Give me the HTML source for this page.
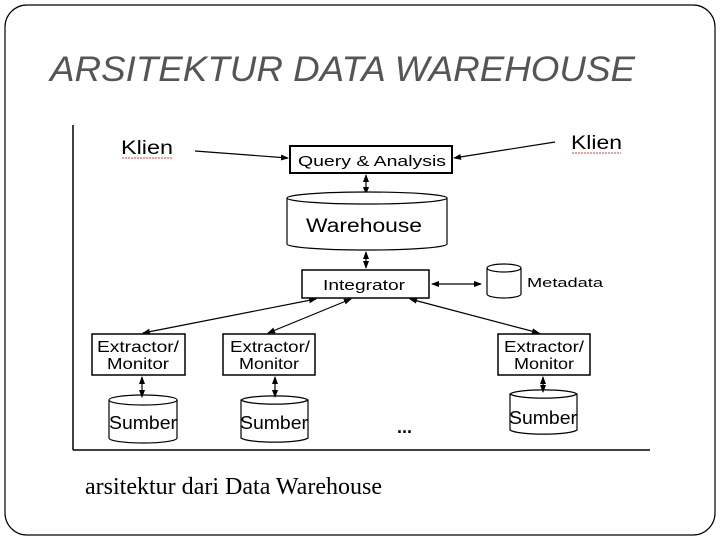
<!DOCTYPE html>
<html><head><meta charset="utf-8"><style>
html,body{margin:0;padding:0;background:#fff;}
svg{display:block;}
</style></head><body>
<svg width="720" height="540" viewBox="0 0 720 540" xmlns="http://www.w3.org/2000/svg" font-family="Liberation Sans, sans-serif">
<defs>
<marker id="a" markerWidth="8" markerHeight="8" refX="7" refY="4" orient="auto-start-reverse" markerUnits="userSpaceOnUse"><path d="M0,1 L8,4 L0,7 z" fill="#000"/></marker>
</defs>
<rect x="5" y="5" width="710" height="530" rx="22" fill="#fff" stroke="#000" stroke-width="1.2"/>
<text x="50" y="81" font-size="35" font-style="italic" fill="#555" textLength="585" lengthAdjust="spacingAndGlyphs">ARSITEKTUR DATA WAREHOUSE</text>

<g stroke="#000" fill="none">
<line x1="73" y1="125" x2="73" y2="450" stroke-width="1.5"/>
<line x1="73" y1="450" x2="650" y2="450" stroke-width="1.5"/>
</g>
<g font-size="19" fill="#000">
<text x="121" y="154" textLength="52" lengthAdjust="spacingAndGlyphs">Klien</text>
<text x="571" y="149" textLength="51" lengthAdjust="spacingAndGlyphs">Klien</text>
</g>
<g stroke="#c00" stroke-width="0.8" fill="none" stroke-dasharray="2,1">
<line x1="122" y1="158" x2="172" y2="158"/>
<line x1="572" y1="153" x2="621" y2="153"/>
</g>
<g stroke="#000" stroke-width="1.2" fill="none">
<line x1="195" y1="151" x2="288" y2="158" marker-end="url(#a)"/>
<line x1="555" y1="142" x2="454" y2="158" marker-end="url(#a)"/>
<rect x="290" y="146" width="162" height="27" stroke-width="2"/>
<line x1="366" y1="175" x2="366" y2="194" marker-start="url(#a)" marker-end="url(#a)"/>
<path d="M287,198 A80,6 0 0 1 447,198 L447,244 A80,6 0 0 1 287,244 Z" fill="#fff"/>
<path d="M287,198 A80,6 0 0 0 447,198"/>
<line x1="366" y1="252" x2="366" y2="268" marker-start="url(#a)" marker-end="url(#a)"/>
<rect x="302" y="270" width="127" height="28" stroke-width="1.5"/>
<line x1="432" y1="284" x2="481" y2="284" marker-start="url(#a)" marker-end="url(#a)"/>
<path d="M487,268 A17,4 0 0 1 521,268 L521,294 A17,4 0 0 1 487,294 Z"/>
<path d="M487,268 A17,4 0 0 0 521,268"/>
<line x1="316" y1="299" x2="143" y2="333" marker-start="url(#a)" marker-end="url(#a)"/>
<line x1="351" y1="299" x2="268" y2="333" marker-start="url(#a)" marker-end="url(#a)"/>
<line x1="410" y1="299" x2="539" y2="333" marker-start="url(#a)" marker-end="url(#a)"/>
<rect x="92" y="334" width="93" height="41" stroke-width="1.5"/>
<rect x="223" y="334" width="92" height="41" stroke-width="1.5"/>
<rect x="498" y="334" width="92" height="41" stroke-width="1.5"/>
<line x1="142" y1="377" x2="142" y2="397" marker-start="url(#a)" marker-end="url(#a)"/>
<line x1="275" y1="377" x2="275" y2="397" marker-start="url(#a)" marker-end="url(#a)"/>
<line x1="543" y1="377" x2="543" y2="392" marker-start="url(#a)" marker-end="url(#a)"/>
<path d="M109,400 A34,5 0 0 1 177,400 L177,438 A34,5 0 0 1 109,438 Z"/>
<path d="M109,400 A34,5 0 0 0 177,400"/>
<path d="M241,400 A34,5 0 0 1 308,400 L308,438 A34,5 0 0 1 241,438 Z"/>
<path d="M241,400 A34,5 0 0 0 308,400"/>
<path d="M510,394 A34,5 0 0 1 577,394 L577,430 A34,5 0 0 1 510,430 Z"/>
<path d="M510,394 A34,5 0 0 0 577,394"/>
</g>
<g font-size="15" fill="#000" text-anchor="middle" lengthAdjust="spacingAndGlyphs">
<text x="372" y="166" textLength="148" lengthAdjust="spacingAndGlyphs">Query &amp; Analysis</text>
<text x="364" y="232" font-size="19" textLength="116" lengthAdjust="spacingAndGlyphs">Warehouse</text>
<text x="364" y="290" textLength="82" lengthAdjust="spacingAndGlyphs">Integrator</text>
<text x="138" y="352" font-size="16" textLength="82" lengthAdjust="spacingAndGlyphs">Extractor/</text><text x="138" y="369" font-size="16" textLength="62" lengthAdjust="spacingAndGlyphs">Monitor</text>
<text x="270" y="352" font-size="16" textLength="80" lengthAdjust="spacingAndGlyphs">Extractor/</text><text x="269" y="369" font-size="16" textLength="60" lengthAdjust="spacingAndGlyphs">Monitor</text>
<text x="544" y="352" font-size="16" textLength="80" lengthAdjust="spacingAndGlyphs">Extractor/</text><text x="544" y="369" font-size="16" textLength="60" lengthAdjust="spacingAndGlyphs">Monitor</text>
<text x="143" y="429" font-size="18" textLength="68" lengthAdjust="spacingAndGlyphs">Sumber</text>
<text x="274" y="429" font-size="18" textLength="68" lengthAdjust="spacingAndGlyphs">Sumber</text>
<text x="543" y="424" font-size="18" textLength="68" lengthAdjust="spacingAndGlyphs">Sumber</text>
</g>
<text x="527" y="287" font-size="13" textLength="76" lengthAdjust="spacingAndGlyphs">Metadata</text>
<text x="397" y="433" font-size="18" font-weight="bold">...</text>
<text x="85" y="494" font-size="24" font-family="Liberation Serif, serif" textLength="297" lengthAdjust="spacingAndGlyphs">arsitektur dari Data Warehouse</text>
</svg>
</body></html>
